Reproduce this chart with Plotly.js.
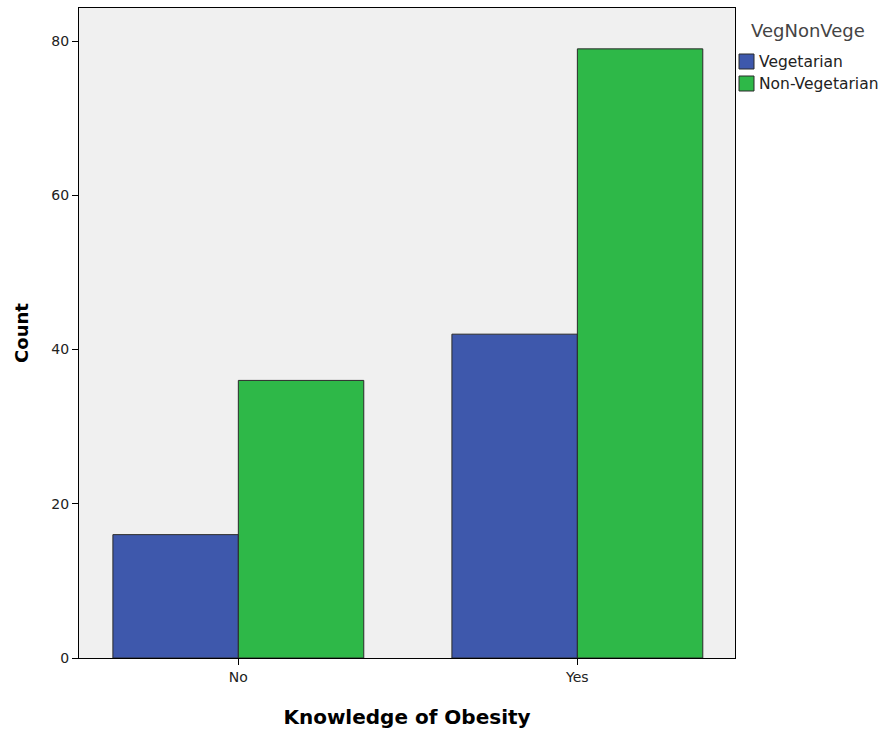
<!DOCTYPE html>
<html>
<head>
<meta charset="utf-8">
<script src="https://cdn.plot.ly/plotly-3.0.1.min.js"></script>
<style>html,body{margin:0;padding:0;background:#fff;}#chart{width:885px;height:734px;}</style>
</head>
<body>
<div id="chart"></div>
<script>
const categories = ["No", "Yes"];
const seriesNames = ["Vegetarian", "Non-Vegetarian"];
const seriesColors = ["#3e58ac", "#2eb848"];
const vegetarian = [16, 42];
const nonVegetarian = [36, 79];
const yTicks = [0, 20, 40, 60, 80];
const legendTitle = "VegNonVege";

const font = "DejaVu Sans, Verdana, sans-serif";
const traces = [
  {type: "bar", name: seriesNames[0], x: categories, y: vegetarian,
   marker: {color: seriesColors[0], line: {color: "#2a2a2a", width: 1}}},
  {type: "bar", name: seriesNames[1], x: categories, y: nonVegetarian,
   marker: {color: seriesColors[1], line: {color: "#2a2a2a", width: 1}}}
];

// custom legend (SPSS style: swatch directly beside label)
const px = v => (v - 79) / 656;
const py = v => (658 - v) / 650;
const shapes = [];
const annotations = [{
  text: legendTitle, xref: "paper", yref: "paper", x: px(749), y: py(31),
  xanchor: "left", yanchor: "middle", showarrow: false,
  font: {family: font, size: 18, color: "#444"}
}];
seriesNames.forEach((n, i) => {
  const top = 54 + i * 22;
  shapes.push({type: "rect", xref: "paper", yref: "paper",
    x0: px(739), x1: px(754), y0: py(top + 15), y1: py(top),
    fillcolor: seriesColors[i], line: {color: "#2a2a2a", width: 1}});
  annotations.push({text: n, xref: "paper", yref: "paper", x: px(757), y: py(top + 7.5),
    xanchor: "left", yanchor: "middle", showarrow: false,
    font: {family: font, size: 15.5, color: "#222"}});
});

const layout = {
  width: 885, height: 734,
  margin: {l: 79, r: 150, t: 8, b: 76},
  paper_bgcolor: "#ffffff", plot_bgcolor: "#f0f0f0",
  barmode: "group", bargap: 0.26, bargroupgap: 0,
  font: {family: font, size: 14, color: "#222"},
  showlegend: false,
  xaxis: {type: "category", range: [-0.47, 1.465], showgrid: false, zeroline: false,
    showline: true, linecolor: "#000", linewidth: 1, mirror: true,
    ticks: "outside", ticklen: 6, tickcolor: "#000",
    tickfont: {family: font, size: 14, color: "#222"},
    title: {text: "Knowledge of Obesity", font: {family: font, size: 20, color: "#000", weight: "bold"}, standoff: 26}},
  yaxis: {range: [0, 84.3], tickvals: yTicks, showgrid: false, zeroline: false,
    showline: true, linecolor: "#000", linewidth: 1, mirror: true,
    ticks: "outside", ticklen: 6, tickcolor: "#000",
    tickfont: {family: font, size: 14, color: "#222"},
    title: {text: "Count", font: {family: font, size: 18, color: "#000", weight: "bold"}, standoff: 18}},
  shapes: shapes,
  annotations: annotations
};
Plotly.newPlot("chart", traces, layout, {displayModeBar: false});
</script>
</body>
</html>
